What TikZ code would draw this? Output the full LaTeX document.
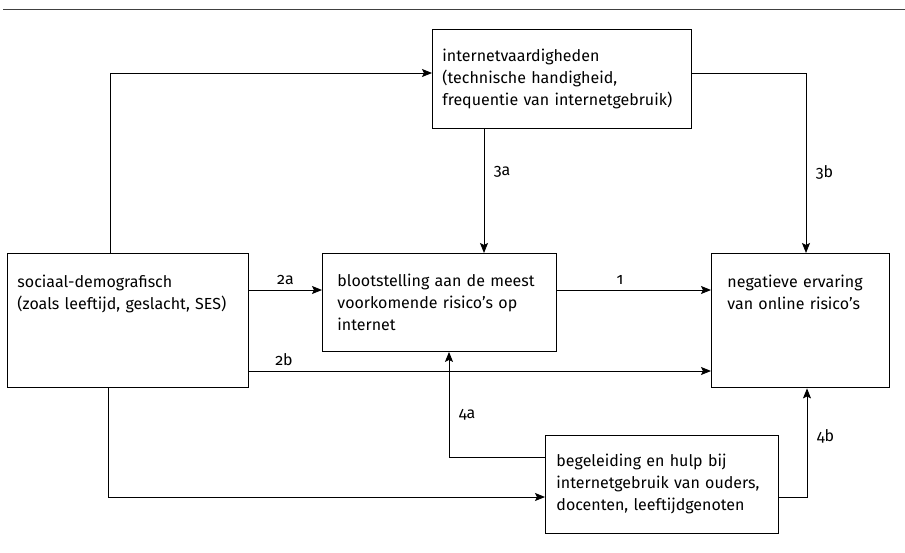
\documentclass[tikz,border=0pt]{standalone}
\usepackage{fontspec}
\setmainfont[Numbers=OldStyle]{Fira Sans}
\usetikzlibrary{arrows.meta}
\tikzstyle{box}=[
        draw,
        line width = 0.9pt,
        anchor = north west,
        align = left,
        inner xsep = 10pt
    ]
\tikzstyle{arr}=[
    line width = 0.9pt,
    -{Stealth[length=10pt, width=8pt, inset=2pt]}
]

\begin{document}
\begin{tikzpicture}[x=1pt, y=-1pt, font=\fontsize{16}{22}\selectfont]
        \useasboundingbox (0,0) rectangle (905,552);
        \draw[line width=1.5pt, black!75] (3,9.5) -- (905,9.5);

        \node[box, text width=239pt, minimum height=99pt] (I) at (432,29) {internetvaardigheden\\(technische handigheid,\\frequentie van internetgebruik)};
        \node[box, text width=221pt, inner ysep=22pt, text depth=78pt] (S) at (7,253) {sociaal-demografisch\\(zoals leeftijd, geslacht, SES)};
        \node[box, text width=204pt, inner xsep=15pt, minimum height=98pt] (B) at (322,253) {blootstelling aan de meest\\voorkomende risico's op\\internet};
        \node[box, text width=146pt, inner xsep=16pt, inner ysep=22pt, text depth=78pt] (N) at (711,253) {negatieve ervaring\\van online risico's};
        \node[box, text width=211pt, inner xsep=11pt, minimum height=98pt] (G) at (545,435) {begeleiding en hulp bij\\internetgebruik van ouders,\\docenten, leeftijdgenoten};

        \draw[arr] (S.north -| 110,0) |- (I.west |- 0,73);
        \draw[arr] (I.east |- 0,73) -| (N.north -| 806,0) node[pos=.775, right=6pt] {3b};
        \draw[arr] (I.south -| 484,0) -- (B.north -| 484,0) node[pos=.35, right=6pt] {3a};
        \draw[arr] (S.east |- 0,290) -- (B.west |- 0,290) node[midway, above=2pt] {2a};
        \draw[arr] (B.east |- 0,290) -- (N.west |- 0,290) node[pos=.41, above=2pt] {1};
        \draw[arr] (S.east |- 0,371) -- (N.west |- 0,371) node[pos=.076, above=2pt] {2b};
        \draw[arr] (S.south -| 108,0) |- (G.west |- 0,497);
        \draw[arr] (G.west |- 0,457) -| (B.south -| 449,0) node[pos=.7, right=6pt] {4a};
        \draw[arr] (G.east |- 0,497) -| (N.south -| 807,0) node[pos=.78, right=6pt] {4b};

    \end{tikzpicture}
\end{document}
